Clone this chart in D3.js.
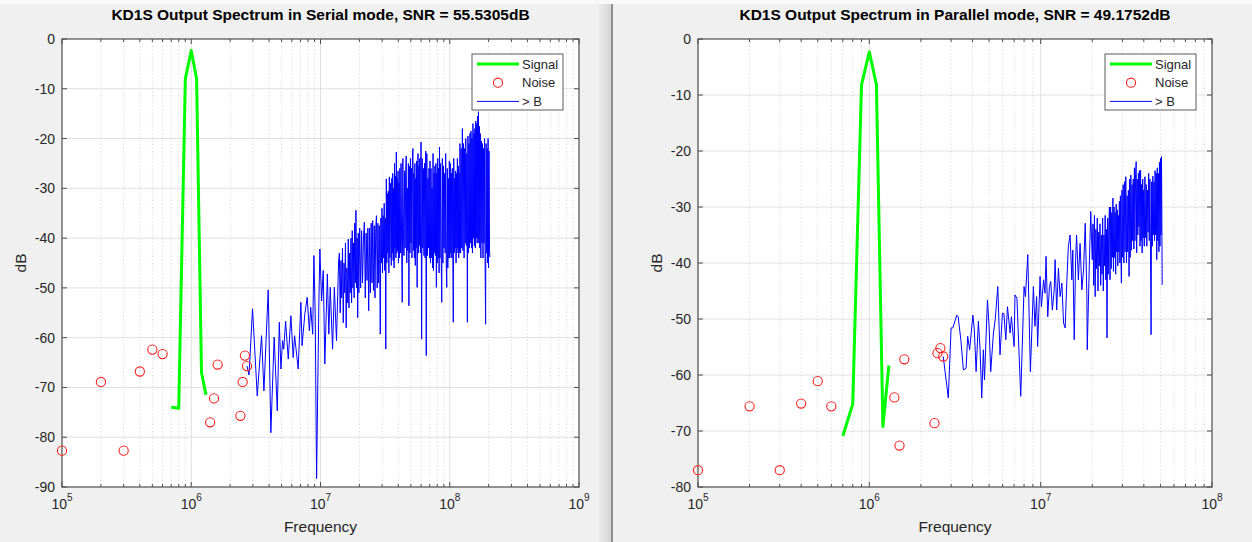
<!DOCTYPE html>
<html>
<head>
<meta charset="utf-8">
<title>KD1S Output Spectrum</title>
<script src="https://cdn.jsdelivr.net/npm/d3@7"></script>
<style>
  body { margin: 0; background: #f0f0f0; }
  svg { display: block; font-family: "Liberation Sans", Arial, Helvetica, sans-serif; }
</style>
</head>
<body>
<svg id="fig" width="1252" height="542"></svg>
<script>
// all frequencies in MHz, levels in dB

const serialSignal = [[0.7,-74],[0.8,-74.2],[0.9,-8],[1.0,-2.3],[1.1,-8],[1.2,-67],[1.3,-71.5]];
const serialNoise = [[0.1,-82.7],[0.2,-68.9],[0.3,-82.7],[0.4,-66.8],[0.5,-62.4],[0.6,-63.3],
  [1.4,-77.0],[1.5,-72.2],[1.6,-65.4],[2.4,-75.7],[2.5,-68.9],[2.6,-63.6],[2.7,-65.7]];
const serialAboveB = [
  [2.7,-65.7],[2.8,-67.5],[2.98,-54.2],[3.24,-71.7],[3.5,-59.6],[3.65,-70.7],[3.94,-50.4],[4.13,-79.1],
  [4.38,-59.9],[4.63,-74.7],[4.8,-56.9],[4.94,-66.3],[5.09,-60.6],[5.2,-62.3],[5.37,-56.7],[5.63,-64.3],
  [5.9,-55.6],[6.15,-64.0],[6.3,-59.6],[6.45,-62],[6.72,-66.3],[7.05,-52.9],[7.2,-61.6],[7.57,-55.2],
  [7.89,-51.9],[8.2,-58.6],[8.4,-53.9],[8.7,-59.3],[8.89,-43.5],[9.1,-55.2],[9.33,-88.3],[9.7,-53.9],
  [9.89,-42.2],[10.2,-52.6],[10.5,-46.5],[10.8,-65.3],[11.3,-47.2],[11.6,-59.3],[11.9,-49.9],[12.4,-62.3],
  [12.8,-49.9],[13.3,-60.6],[13.8,-44.8],
  [14.0,-43],[14.2,-55],[14.4,-44.5],[14.6,-52],[14.8,-42],[15.0,-57],[15.2,-45],[15.4,-51],
  [15.6,-41],[15.8,-58],[16.0,-46],[16.2,-53],[16.4,-40.2],[16.6,-54],[16.8,-43],[17.0,-51],
  [17.2,-40],[17.4,-53],[17.6,-38.5],[17.8,-50],[18.0,-41],[18.2,-52],[18.4,-37],[18.6,-49],
  [18.8,-34.4],[19.0,-50],[19.2,-40],[19.4,-56],[19.6,-39],[19.8,-51],
  [20.1,-38],[20.45,-50],[20.8,-38.5],[21.15,-49],[21.5,-40],[21.85,-36.8],[22.2,-52],[22.55,-39],
  [22.9,-48.5],[23.25,-38],[23.6,-54.6],[23.95,-38],[24.3,-51],[24.65,-37],[25.0,-49],[25.35,-36.5],
  [25.7,-50.5],[26.05,-37.5],[26.4,-52],[26.75,-38],[27.1,-35.5],[27.45,-50],[27.8,-37],[28.15,-49],
  [28.5,-37.5],[28.85,-51],
  [29.0,-59.3],[29.3,-36],[29.6,-45],[29.9,-34],[30.2,-47],[30.5,-35.5],[30.8,-44],[31.1,-33],
  [31.4,-46.5],[31.7,-36],[32.0,-62.3],[32.3,-28.1],[32.6,-45],[32.9,-31],[33.2,-43],[33.5,-30.5],
  [33.8,-47],[34.1,-27.7],[34.4,-44],[34.7,-29],[35.0,-38],[35.3,-45.5],[35.6,-28],[35.9,-43],
  [36.2,-27],[36.5,-44.5],[36.8,-30],[37.1,-46],[37.4,-25],[37.7,-42],[38.0,-27.5],[38.3,-44],
  [38.6,-22.7],[38.9,-43],[39.2,-28],[39.5,-42.5],[39.8,-26.5],[40.1,-45],[40.4,-29],[40.7,-44],
  [41.1,-26],[41.55,-43],[42.0,-25],[42.45,-41.5],[42.9,-52.9],[43.35,-24],[43.8,-38],[44.25,-43.5],
  [44.7,-26.5],[45.15,-42],[45.6,-27],[46.05,-23.5],[46.5,-45],[46.95,-30],[47.4,-42.5],[47.85,-25],
  [48.3,-53.6],[48.75,-25.5],[49.2,-43],[49.65,-24],[50.1,-41],[50.55,-26],[51.0,-44],[51.45,-23.5],
  [51.9,-22],[52.35,-42.5],[52.8,-27],[53.25,-44],[53.7,-25],[54.15,-45.5],[54.6,-28],[55.05,-42],
  [55.5,-24.5],[55.95,-49.9],[56.4,-26],[56.85,-23],[57.3,-43],[57.75,-25.5],[58.2,-41.5],[58.65,-24],
  [59.3,-43],[59.95,-20.7],[60.6,-60.3],[61.25,-24],[61.9,-42],[62.55,-26],[63.2,-43.5],[63.85,-25],
  [64.5,-44],[65.15,-22.5],[65.8,-63.6],[66.45,-23],[67.1,-43.5],[67.75,-28],[68.4,-42],[69.05,-26],
  [69.7,-44],[70.35,-24.5],[71.0,-45],[71.65,-26],[72.3,-44],[72.95,-30],[73.6,-46],[74.25,-23],
  [74.9,-46.5],[75.55,-27],[76.2,-43],[76.85,-25.5],[77.5,-43.5],[78.15,-25],[78.8,-49.9],[79.45,-27],
  [80.1,-45],[80.75,-24],[81.4,-44],[82.05,-26],[82.7,-47],[83.35,-21.7],
  [84.0,-44],[84.9,-25],[85.8,-43],[86.7,-52.9],[87.6,-24],[88.5,-45],[89.4,-25.5],[90.3,-42],
  [91.2,-27],[92.1,-43],[93.0,-23],[93.9,-45],[94.8,-49.9],[95.7,-26],[96.6,-46],[97.5,-28],
  [98.4,-44],[99.3,-24.5],[100.2,-44],[101.1,-25],[102.0,-43],[102.9,-27],[103.8,-44],[104.7,-26],
  [105.6,-43],[106.5,-56.9],[107.4,-24],[108.3,-43],[109.2,-28],[110.1,-42],[111.0,-26.5],[111.9,-45],
  [112.8,-27],[113.7,-43],[114.6,-24],[115.5,-42],[116.4,-25.5],[117.3,-44],[118.2,-27],[119.1,-43],
  [120.0,-21],[121.3,-43],[122.6,-22],[123.9,-42],[125.2,-18],[126.5,-42.5],[127.8,-21],[129.1,-44],
  [130.4,-22],[131.7,-41],[133.0,-20],[134.3,-41.5],[135.6,-23],[136.9,-56.9],[138.2,-19.5],[139.5,-43],
  [140.8,-21],[142.1,-42],[143.4,-19],[144.7,-41],[146.0,-18.5],[147.3,-42],[148.6,-20],[149.9,-43],
  [151.2,-17],[152.5,-40],[153.8,-19],[155.1,-41.5],[156.4,-18],[157.7,-42],[159.0,-16.5],[160.3,-40],
  [161.6,-17],[162.9,-41],[164.2,-15.5],[165.5,-40],[166.8,-14.6],[168.1,-41],[169.4,-17.5],[170.7,-42],
  [172.4,-19],[174.1,-44],[175.8,-20.5],[177.5,-41],[179.2,-21],[180.9,-44],[182.6,-22],[184.3,-41],
  [186.0,-20],[187.7,-45],[189.4,-57.3],[191.1,-21],[192.8,-43],[194.5,-22],[196.2,-45],[197.9,-20],
  [199.6,-46],[201.3,-22.5],[203.0,-42],[204.0,-43.8]
];

const parallelSignal = [[0.7,-70.9],[0.8,-65.2],[0.9,-8.2],[1.0,-2.3],[1.1,-8.2],[1.2,-69.2],[1.3,-58.3]];
const parallelNoise = [[0.1,-77.0],[0.2,-65.6],[0.3,-77.0],[0.4,-65.1],[0.5,-61.1],[0.6,-65.6],
  [1.4,-64.0],[1.5,-72.6],[1.6,-57.2],[2.4,-68.6],[2.5,-56.1],[2.6,-55.2],[2.7,-56.7]];
const parallelAboveB = [
  [2.7,-56.7],[2.89,-64.1],[3.0,-51.6],[3.07,-51.6],[3.24,-49.3],[3.3,-49.6],[3.42,-53.7],[3.54,-59.1],
  [3.67,-58.8],[3.75,-53.1],[3.85,-55.5],[4.02,-49.3],[4.1,-51.9],[4.2,-59.4],[4.33,-50.4],[4.43,-55.5],
  [4.53,-64.1],[4.63,-55.5],[4.7,-60.9],[4.89,-46.6],[5.0,-51.3],[5.11,-59.4],[5.3,-52.5],[5.43,-50.1],
  [5.62,-44.2],[5.79,-56.4],[5.98,-49.0],[6.1,-49.0],[6.26,-53.7],[6.4,-47.8],[6.63,-52.5],[6.75,-49.6],
  [7.0,-54.9],[7.08,-45.7],[7.27,-46.3],[7.65,-63.8],[8.0,-44.2],[8.15,-46],[8.41,-38.5],[8.71,-59.4],
  [9.07,-44.2],[9.26,-51.3],[9.47,-46],[9.6,-54.9],[9.92,-42.4],[10.1,-47.8],[10.4,-43],[10.6,-45.4],
  [10.75,-38.8],[11.0,-49.6],[11.25,-44.2],[11.45,-43.3],[11.7,-48.4],[12.0,-44.8],[12.14,-39.4],[12.4,-48.4],
  [12.7,-40.9],[12.98,-46],[13.3,-43.6],[13.6,-50.7],[13.9,-51.6],[14.2,-43.6],[14.5,-37.1],[14.85,-35],
  [15.2,-43],[15.4,-37.7],[15.7,-53.7],[16.0,-39.4],[16.2,-35],[16.6,-43],[16.98,-36.5],[17.4,-44.8],
  [17.8,-41.2],[18.2,-32.9],[18.6,-45.4],[18.7,-55.5],[19.2,-41.2],[19.6,-30.8],[20.0,-39.4],
  [20.2,-33],[20.4,-44],[20.6,-31.5],[20.8,-46],[21.0,-34],[21.2,-41],[21.4,-32],[21.6,-45],
  [21.8,-34.5],[22.0,-40.5],[22.2,-33],[22.4,-44],[22.6,-35],[22.8,-42],[23.0,-32],[23.2,-45],
  [23.4,-35],[23.6,-40.5],[23.8,-31.5],[24.0,-43],[24.2,-34],[24.4,-53.4],[24.6,-32],[24.8,-42],
  [25.0,-33],[25.2,-30],[25.4,-43],[25.6,-30],[25.8,-41],[26.0,-31],[26.2,-39],[26.4,-28.4],
  [26.6,-41.5],[26.8,-30],[27.0,-39],[27.2,-31],[27.4,-42],[27.6,-29.5],[27.8,-38],[28.0,-30.5],
  [28.2,-40.5],[28.4,-31.5],[28.6,-38],[28.8,-29],[29.0,-40],[29.2,-28],[29.4,-38.5],[29.6,-43.6],
  [29.8,-27],[30.0,-39],
  [30.3,-26],[30.6,-40],[30.85,-25.5],[31.1,-38],[31.4,-24.6],[31.7,-40],[31.95,-28],[32.2,-38],
  [32.5,-27],[32.8,-42.4],[33.05,-25],[33.3,-39],[33.6,-24.3],[33.9,-37.7],[34.15,-26],[34.4,-36],
  [34.7,-25],[35.0,-37.5],[35.25,-23],[35.5,-36],[35.8,-24],[36.1,-21.9],[36.35,-38.2],[36.6,-25],
  [36.9,-35],[37.2,-24],[37.45,-33.5],[37.7,-23.5],[38.0,-37],[38.3,-23.4],[38.55,-36],[38.8,-26],
  [39.1,-38.2],[39.4,-25],[39.65,-35.5],[39.9,-27],
  [40.25,-37],[40.6,-24.6],[40.95,-35.5],[41.3,-26],[41.65,-37],[42.0,-27],[42.35,-34.5],[42.7,-24],
  [43.05,-36],[43.4,-25],[43.75,-38],[44.1,-52.8],[44.45,-25.5],[44.8,-37],[45.15,-24.5],[45.5,-35],
  [45.85,-25.5],[46.2,-36],[46.55,-23.5],[46.9,-35],[47.25,-24],[47.6,-39.4],[47.95,-23],[48.3,-36],
  [48.65,-24],[49.0,-38],[49.35,-22],[49.7,-37],[50.05,-21.3],[50.4,-35],[50.75,-21],[51.0,-34],
  [51.2,-43.9]
];

const titleSerial = 'KD1S Output Spectrum in Serial mode, SNR = 55.5305dB';
const titleParallel = 'KD1S Output Spectrum in Parallel mode, SNR = 49.1752dB';
const xTickExpSerial = [5, 6, 7, 8, 9];
const xTickExpParallel = [5, 6, 7, 8];
const yTicksSerial = [0, -10, -20, -30, -40, -50, -60, -70, -80, -90];
const yTicksParallel = [0, -10, -20, -30, -40, -50, -60, -70, -80];
const legendLabels = ['Signal', 'Noise', '> B'];

const TXT = '#262626';
const svg = d3.select('#fig');

// window chrome: light top strip + the split between the two figure windows
svg.append('rect').attr('width', 1252).attr('height', 542).attr('fill', '#f0f0f0');
svg.append('rect').attr('width', 1252).attr('height', 4).attr('fill', '#f8f8f8');
const grad = svg.append('defs').append('linearGradient').attr('id', 'shade');
grad.append('stop').attr('offset', '0').attr('stop-color', '#f0f0f0');
grad.append('stop').attr('offset', '1').attr('stop-color', '#d4d4d4');
svg.append('rect').attr('x', 597).attr('y', 4).attr('width', 14).attr('height', 538).attr('fill', 'url(#shade)');
svg.append('rect').attr('x', 611).attr('y', 4).attr('width', 2).attr('height', 538).attr('fill', '#8f8f8f');

function drawPanel(p) {
  const g = svg.append('g');
  const x = d3.scaleLog().domain([Math.pow(10, p.xExp[0] - 6), Math.pow(10, p.xExp[p.xExp.length - 1] - 6)])
    .range([p.left, p.right]);
  const y = d3.scaleLinear().domain([p.yTicks[p.yTicks.length - 1], p.yTicks[0]]).range([p.bottom, p.top]);

  g.append('rect')
    .attr('x', p.left).attr('y', p.top)
    .attr('width', p.right - p.left).attr('height', p.bottom - p.top)
    .attr('fill', '#fff');

  // minor decades 2..9
  const majors = p.xExp.map(e => Math.pow(10, e - 6));
  const minors = [];
  majors.slice(0, -1).forEach(d => { for (let k = 2; k <= 9; k++) minors.push(d * k); });

  g.selectAll('.mgrid').data(minors).join('line')
    .attr('x1', d => x(d)).attr('x2', d => x(d))
    .attr('y1', p.top).attr('y2', p.bottom)
    .attr('stroke', '#d2d2d2').attr('stroke-dasharray', '1,2.5');
  g.selectAll('.xgrid').data(majors.slice(1, -1)).join('line')
    .attr('x1', d => x(d)).attr('x2', d => x(d))
    .attr('y1', p.top).attr('y2', p.bottom)
    .attr('stroke', '#e0e0e0');
  g.selectAll('.ygrid').data(p.yTicks.slice(1, -1)).join('line')
    .attr('x1', p.left).attr('x2', p.right)
    .attr('y1', d => y(d)).attr('y2', d => y(d))
    .attr('stroke', '#e0e0e0');

  // lines are clipped to the axes, markers are not (MATLAB draws them over the box)
  const clipId = 'clip-' + p.id;
  g.append('clipPath').attr('id', clipId).append('rect')
    .attr('x', p.left).attr('y', p.top).attr('width', p.right - p.left).attr('height', p.bottom - p.top);
  const data = g.append('g').attr('clip-path', `url(#${clipId})`);
  const line = d3.line().x(d => x(d[0])).y(d => y(d[1]));

  data.append('path').datum(p.signal).attr('d', line)
    .attr('fill', 'none').attr('stroke', '#00ff00').attr('stroke-width', 3).attr('stroke-linejoin', 'round');
  data.append('path').datum(p.aboveB).attr('d', line)
    .attr('fill', 'none').attr('stroke', '#0000ff').attr('stroke-width', 1);

  // ticks (inward, on all four sides like MATLAB box on)
  const tickG = g.append('g').attr('stroke', '#4d4d4d').attr('stroke-width', 1);
  majors.forEach(d => {
    tickG.append('line').attr('x1', x(d)).attr('x2', x(d)).attr('y1', p.bottom).attr('y2', p.bottom - 5);
    tickG.append('line').attr('x1', x(d)).attr('x2', x(d)).attr('y1', p.top).attr('y2', p.top + 5);
  });
  minors.forEach(d => {
    tickG.append('line').attr('x1', x(d)).attr('x2', x(d)).attr('y1', p.bottom).attr('y2', p.bottom - 3);
    tickG.append('line').attr('x1', x(d)).attr('x2', x(d)).attr('y1', p.top).attr('y2', p.top + 3);
  });
  p.yTicks.forEach(v => {
    tickG.append('line').attr('x1', p.left).attr('x2', p.left + 5).attr('y1', y(v)).attr('y2', y(v));
    tickG.append('line').attr('x1', p.right).attr('x2', p.right - 5).attr('y1', y(v)).attr('y2', y(v));
  });

  g.append('rect')
    .attr('x', p.left).attr('y', p.top)
    .attr('width', p.right - p.left).attr('height', p.bottom - p.top)
    .attr('fill', 'none').attr('stroke', '#4d4d4d').attr('stroke-width', 1.2);

  g.selectAll('.noise').data(p.noise).join('circle')
    .attr('cx', d => x(d[0])).attr('cy', d => y(d[1])).attr('r', 4.6)
    .attr('fill', 'none').attr('stroke', '#ff2020').attr('stroke-width', 1.1);

  // tick labels
  g.selectAll('.ylab').data(p.yTicks).join('text')
    .attr('x', p.left - 7).attr('y', d => y(d) + 5)
    .attr('text-anchor', 'end').attr('font-size', 14).attr('fill', TXT)
    .text(d => d);
  const xl = g.selectAll('.xlab').data(p.xExp).join('text')
    .attr('x', d => x(Math.pow(10, d - 6))).attr('y', p.bottom + 22)
    .attr('text-anchor', 'middle').attr('font-size', 14).attr('fill', TXT);
  xl.append('tspan').text('10');
  xl.append('tspan').attr('dy', -8).attr('font-size', 10).text(d => d);

  // title and axis labels
  const cx = (p.left + p.right) / 2;
  g.append('text').attr('x', cx).attr('y', 20)
    .attr('text-anchor', 'middle').attr('font-size', 15.5).attr('font-weight', 'bold').attr('fill', '#000')
    .text(p.title);
  g.append('text').attr('x', cx).attr('y', 532)
    .attr('text-anchor', 'middle').attr('font-size', 15.5).attr('fill', TXT)
    .text('Frequency');
  g.append('text')
    .attr('transform', `translate(${p.left - 36},${(p.top + p.bottom) / 2}) rotate(-90)`)
    .attr('text-anchor', 'middle').attr('font-size', 15.5).attr('fill', TXT)
    .text('dB');

  // legend
  const lw = 91, lh = 56;
  const lx = p.right - 16 - lw, ly = p.top + 15;
  const lg = g.append('g').attr('transform', `translate(${lx},${ly})`);
  lg.append('rect').attr('width', lw).attr('height', lh)
    .attr('fill', '#fff').attr('stroke', '#5a5a5a').attr('stroke-width', 1);
  const rows = lg.selectAll('.lrow').data(legendLabels).join('g')
    .attr('transform', (d, i) => `translate(0,${10 + i * 18.7})`);
  rows.append('text').attr('x', 50).attr('y', 4.5)
    .attr('font-size', 13).attr('fill', TXT).text(d => d);
  rows.filter((d, i) => i === 0).append('line')
    .attr('x1', 5).attr('x2', 47).attr('stroke', '#00ff00').attr('stroke-width', 3);
  rows.filter((d, i) => i === 1).append('circle')
    .attr('cx', 26).attr('r', 4.6).attr('fill', 'none').attr('stroke', '#ff2020').attr('stroke-width', 1.1);
  rows.filter((d, i) => i === 2).append('line')
    .attr('x1', 5).attr('x2', 47).attr('stroke', '#0000ff').attr('stroke-width', 1);
}

drawPanel({
  id: 'serial', left: 62, right: 579, top: 39, bottom: 487,
  xExp: xTickExpSerial, yTicks: yTicksSerial, title: titleSerial,
  signal: serialSignal, noise: serialNoise, aboveB: serialAboveB
});
drawPanel({
  id: 'parallel', left: 698, right: 1212, top: 39, bottom: 487,
  xExp: xTickExpParallel, yTicks: yTicksParallel, title: titleParallel,
  signal: parallelSignal, noise: parallelNoise, aboveB: parallelAboveB
});
</script>
</body>
</html>
